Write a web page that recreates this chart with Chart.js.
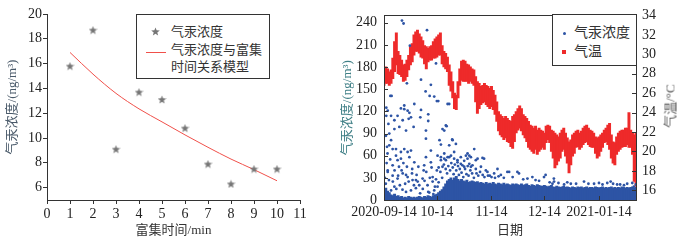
<!DOCTYPE html>
<html>
<head>
<meta charset="utf-8">
<script src="https://cdn.jsdelivr.net/npm/chart.js@4.4.1/dist/chart.umd.min.js"></script>
<style>
html, body { margin: 0; padding: 0; background: #fff; }
#wrap { position: relative; width: 684px; height: 246px; font-family: 'Liberation Serif', 'Noto Sans CJK SC', serif; color: #333; }
canvas { position: absolute; top: 0; }
#c1 { left: 0; }
#c2 { left: 340px; }
.lg { position: absolute; background: #fff; border: 1px solid #333; box-sizing: border-box; }
.lg span { position: absolute; white-space: nowrap; }
#tempTitle { position: absolute; left: 670px; top: 106px; font-size: 13px; line-height: 13px; color: #555; white-space: nowrap; transform: translate(-50%, -50%) rotate(-90deg); }
</style>
</head>
<body>
<div id="wrap">
  <canvas id="c1" width="340" height="246"></canvas>
  <canvas id="c2" width="344" height="246"></canvas>

  <div class="lg" style="left:136px;top:14px;width:134px;height:65px;font-size:13px;line-height:16px;">
    <img id="starIcon" style="position:absolute;left:14px;top:12px;width:9px;height:9px;">
    <span style="left:34px;top:9px;">气汞浓度</span>
    <div style="position:absolute;left:9px;top:37px;width:20px;height:1px;background:#f0504a;"></div>
    <span style="left:34px;top:27px;">气汞浓度与富集</span>
    <span style="left:34px;top:44px;">时间关系模型</span>
  </div>

  <div class="lg" style="left:552px;top:14px;width:85px;height:52px;font-size:14px;line-height:17px;">
    <div style="position:absolute;left:10px;top:17px;width:3px;height:3px;border-radius:50%;background:#2d54a5;"></div>
    <span style="left:21px;top:9px;">气汞浓度</span>
    <div style="position:absolute;left:9px;top:35px;width:4px;height:4px;background:#ee2a2a;"></div>
    <span style="left:21px;top:28px;">气温</span>
  </div>

  <span id="tempTitle">气温/°C</span>
</div>

<script>
// ---- left panel: enrichment time vs Hg concentration
const enrichTime = [1, 2, 3, 4, 5, 6, 7, 8, 9, 10];
const hgMeasured = [15.8, 18.7, 9.1, 13.7, 13.1, 10.8, 7.9, 6.3, 7.5, 7.5];
const hgModel = [16.9, 15.15, 13.6, 12.35, 11.3, 10.25, 9.25, 8.3, 7.45, 6.55];
const leftXTicks = [0, 1, 2, 3, 4, 5, 6, 7, 8, 9, 10, 11];
const leftYTicks = [6, 8, 10, 12, 14, 16, 18, 20];

// ---- right panel: daily values, index = days since 2020-09-14
const tempHigh = [
  28.5, 28.7, 28.5, 28.2, 28.4, 29.6, 31.3, 32.2, 30.3, 29.9,
  29.4, 28.9, 29.0, 29.4, 29.9, 30.8, 31.1, 32.0, 32.3, 32.5,
  32.1, 31.8, 31.4, 30.9, 30.8, 30.6, 30.8, 30.9, 31.3, 31.6,
  31.8, 32.0, 32.2, 30.9, 30.3, 30.1, 29.7, 28.9, 28.2, 27.2,
  26.0, 25.8, 27.2, 28.5, 29.3, 29.4, 29.3, 29.0, 28.9, 28.7,
  28.5, 28.4, 27.7, 27.2, 27.0, 26.7, 26.8, 27.0, 26.8, 26.7,
  26.5, 26.7, 26.3, 25.8, 25.1, 24.1, 23.8, 23.6, 23.4, 23.6,
  23.4, 23.2, 23.1, 23.6, 23.8, 24.1, 24.4, 24.7, 24.4, 23.8,
  23.6, 23.4, 23.1, 22.7, 22.6, 22.4, 22.6, 22.2, 22.4, 22.2,
  22.1, 21.9, 22.6, 22.7, 22.6, 22.2, 22.1, 21.9, 21.7, 21.5,
  21.9, 22.2, 22.4, 21.9, 21.4, 21.0, 21.2, 21.7, 21.9, 22.1,
  22.2, 21.9, 22.1, 22.4, 22.6, 22.7, 22.4, 22.2, 22.1, 21.9,
  21.5, 21.4, 21.5, 21.7, 21.9, 22.2, 22.4, 22.7, 22.9, 21.7,
  21.0, 20.9, 21.5, 21.9, 22.1, 22.2, 22.2, 22.4, 22.4, 24.0,
  22.2, 21.9, 21.7, 21.9
];
const tempLow = [
  26.8, 27.0, 27.0, 26.8, 27.0, 27.5, 28.2, 28.9, 28.0, 27.9,
  27.7, 27.2, 27.3, 27.7, 28.4, 28.9, 29.2, 29.9, 30.3, 30.3,
  30.1, 29.7, 29.6, 29.0, 28.5, 29.2, 29.4, 29.4, 29.6, 29.6,
  29.7, 29.9, 29.9, 29.0, 28.7, 28.5, 28.2, 26.8, 26.2, 25.5,
  24.4, 24.3, 25.5, 26.8, 27.3, 27.2, 27.2, 27.2, 27.0, 27.2,
  27.0, 26.8, 25.1, 23.9, 24.4, 24.8, 25.0, 25.1, 24.8, 24.6,
  24.4, 24.6, 24.3, 23.8, 23.1, 22.1, 21.7, 21.5, 21.2, 21.4,
  21.0, 20.9, 20.5, 20.3, 21.0, 21.9, 22.2, 22.4, 22.1, 21.7,
  21.4, 21.0, 20.4, 20.2, 20.0, 19.8, 20.2, 19.7, 20.0, 20.2,
  20.4, 20.2, 20.9, 21.2, 20.9, 20.0, 19.3, 18.3, 18.6, 19.0,
  19.3, 20.0, 20.2, 19.5, 18.8, 17.8, 18.6, 19.5, 19.8, 20.4,
  20.5, 20.2, 20.4, 20.7, 20.9, 21.0, 20.7, 20.5, 20.4, 20.4,
  19.8, 19.3, 19.5, 20.0, 20.4, 20.9, 21.0, 20.7, 20.2, 19.3,
  18.8, 18.6, 19.7, 20.0, 20.2, 20.4, 20.5, 20.5, 20.7, 20.4,
  20.4, 19.7, 16.9, 16.4
];
// dense lower part of the Hg cloud, per day
const concBandTop = [
  14, 16, 12, 10, 7, 6, 8, 5, 6, 4,
  5, 3, 4, 3, 5, 4, 3, 4, 3, 4,
  5, 4, 3, 5, 4, 6, 5, 4, 6, 7,
  8, 10, 12, 14, 18, 22, 26, 28, 30, 27,
  30, 32, 28, 26, 28, 26, 25, 27, 24, 25,
  26, 25, 24, 25, 23, 24, 23, 22, 24, 22,
  23, 22, 24, 22, 21, 23, 22, 21, 23, 21,
  22, 21, 20, 22, 21, 22, 21, 20, 22, 20,
  21, 22, 20, 19, 21, 20, 19, 21, 20, 19,
  19, 20, 19, 18, 19, 20, 18, 17, 19, 18,
  17, 18, 19, 17, 18, 17, 16, 18, 17, 16,
  18, 17, 18, 16, 17, 18, 16, 17, 17, 16,
  18, 17, 16, 17, 18, 16, 17, 16, 17, 18,
  16, 17, 16, 17, 16, 18, 17, 16, 17, 16,
  17, 18, 16, 17
];
// scattered Hg observations [day, ng/m3]
const concPoints = [
  [10.2, 243], [11.1, 239], [24.4, 230], [14.7, 209], [29.5, 185], [21, 163], [13, 158],
  [26.6, 156], [23.6, 147], [25.9, 141], [4.3, 141], [3.6, 141], [28.5, 140], [30, 134],
  [30.8, 134], [17.2, 130], [36.1, 130], [37, 130], [11.5, 128], [1.3, 125], [9.6, 124],
  [11.5, 123], [21, 122], [2.1, 121], [13.4, 121], [14.4, 118], [25.1, 116], [1.3, 114],
  [4, 114], [7.7, 114], [15.3, 112], [20.6, 112], [14, 110], [10.6, 108], [5.9, 108],
  [25.1, 107], [2.5, 103], [35.1, 101], [35.5, 100], [16.8, 99], [8.7, 99], [5.9, 96],
  [33.2, 96], [34.2, 94], [12.5, 94], [23.8, 94], [3, 90], [1.1, 87], [23.8, 83],
  [38.7, 82], [31.5, 81], [4, 81], [38.9, 81], [40.8, 76], [32.3, 75], [37, 74], [3, 74],
  [1.7, 72], [51.2, 69], [6.8, 69], [11.5, 69], [4.9, 69], [26.6, 67], [15.3, 67],
  [9.6, 65], [39.8, 65], [13.4, 65], [2, 63], [47.4, 63], [34.2, 63], [6.8, 60],
  [30.4, 60], [38, 60], [48.4, 60], [46.5, 60], [14.4, 58], [23.8, 58], [32.3, 58],
  [37, 58], [43.6, 58], [36.1, 58], [49.3, 58], [55.9, 57], [56.8, 56], [9.6, 56],
  [34.2, 56], [39.8, 56], [47.4, 56], [53.1, 56], [7.7, 54], [35.1, 54], [41.7, 54],
  [52.1, 54], [32.3, 54], [45.5, 53], [17.2, 51], [26.6, 51], [41.7, 51], [43.6, 49],
  [48.4, 49], [4.9, 47], [22.8, 47], [50.2, 47], [33.2, 45], [45.5, 45], [49.3, 45],
  [55, 45], [52.1, 42], [64.4, 42], [2.1, 40], [10, 40], [22.5, 40], [57.8, 40],
  [2.1, 38], [58.7, 38], [70, 38], [71, 38], [75.7, 38], [15.9, 36], [10.6, 36],
  [62.5, 36], [76.6, 36], [12.5, 34], [66.3, 34], [91.7, 34], [4.9, 33], [60, 33],
  [13.4, 31], [27.6, 31], [84.2, 31], [90.8, 31], [73, 31], [68, 30], [7.7, 29],
  [21.9, 29], [81.4, 29], [96.4, 29], [79, 28], [18.1, 27], [16.2, 27], [86, 27],
  [88, 26], [27.6, 25], [19.1, 25], [96.5, 25], [113.5, 25], [128.6, 25], [94, 24],
  [104, 24], [99, 23], [126.7, 23], [122, 23], [140.9, 23], [106, 22], [119.2, 22],
  [95.6, 22], [109, 22], [116, 22], [130, 22], [138, 22], [102.2, 21], [132.3, 21],
  [124, 21], [134, 21], [143, 21], [20, 20], [24.7, 20], [136.2, 20], [28.9, 18],
  [30.4, 18], [141.8, 18], [5.9, 18], [18.1, 16], [4, 13], [15.3, 13], [28.5, 13],
  [25.1, 11], [12.5, 11], [25.7, 10],
  [31, 44], [32, 38], [33, 30], [34, 48], [35, 42], [35.8, 36], [36.5, 46], [37.5, 40],
  [38.2, 50], [39, 44], [39.5, 35], [40.2, 48], [41, 40], [42, 46], [42.5, 34], [43, 42],
  [44, 37], [44.5, 47], [45, 31], [46, 42], [46.8, 35], [47.5, 46], [48, 33], [49, 40],
  [50, 36], [51, 30], [52.5, 36], [53.5, 33], [54.5, 38], [56, 34], [57, 31], [59, 33],
  [61, 31], [63, 30], [65, 32],
  [0.5, 30], [1, 22], [1.5, 50], [2.8, 27], [3.5, 55], [5, 25], [6, 40], [7, 15],
  [8, 33], [8.5, 45], [9, 20], [10.5, 14], [11, 50], [12, 22], [13, 45], [14, 25],
  [16, 42], [17, 20], [18.5, 34], [19.5, 45], [20.5, 9], [22, 15], [23, 26], [24, 38],
  [26, 30], [27, 44], [28, 8], [29.5, 28], [30, 40], [31, 24]
];
const dateTicks = [0, 30, 61, 91, 122];
const dateLabels = ['2020-09-14', '10-14', '11-14', '12-14', '2021-01-14'];
const concTicks = [0, 30, 60, 90, 120, 150, 180, 210, 240];
const tempTicks = [16, 18, 20, 22, 24, 26, 28, 30, 32, 34];

const serif = "'Liberation Serif', 'Noto Sans CJK SC', serif";
const tickFont = { family: serif, size: 14 };
const titleFont = { family: serif, size: 13 };
const axisCol = '#333';

// filled five point star for the measured points
const star = document.createElement('canvas');
star.width = 9; star.height = 9;
const sc = star.getContext('2d');
sc.fillStyle = '#767676';
sc.beginPath();
for (let i = 0; i < 10; i++) {
  const r = i % 2 ? 1.9 : 4.5;
  const a = -Math.PI / 2 + i * Math.PI / 5;
  const px = 4.5 + r * Math.cos(a), py = 4.9 + r * Math.sin(a);
  if (i) sc.lineTo(px, py); else sc.moveTo(px, py);
}
sc.closePath();
sc.fill();
document.getElementById('starIcon').src = star.toDataURL();

const setTicks = vals => scale => { scale.ticks = vals.map(v => ({ value: v })); };

new Chart(document.getElementById('c1'), {
  type: 'scatter',
  data: {
    datasets: [
      {
        label: '气汞浓度',
        data: enrichTime.map((t, i) => ({ x: t, y: hgMeasured[i] })),
        pointStyle: star,
        pointRadius: 4.5,
        order: 0
      },
      {
        type: 'line',
        label: '气汞浓度与富集时间关系模型',
        data: enrichTime.map((t, i) => ({ x: t, y: hgModel[i] })),
        borderColor: '#f0504a',
        borderWidth: 1,
        pointRadius: 0,
        cubicInterpolationMode: 'monotone',
        fill: false,
        order: 1
      }
    ]
  },
  options: {
    responsive: false,
    animation: false,
    layout: { padding: { top: 14, right: 40 } },
    plugins: { legend: { display: false }, tooltip: { enabled: false } },
    scales: {
      x: {
        type: 'linear', min: 0, max: 11,
        afterBuildTicks: setTicks(leftXTicks),
        afterFit: s => { s.height = 46; },
        grid: { drawOnChartArea: false, tickLength: 4, color: axisCol },
        border: { color: axisCol },
        ticks: { font: tickFont, color: '#222', padding: 2, maxRotation: 0, autoSkip: false },
        title: { display: true, text: '富集时间/min', font: titleFont, color: '#333', padding: { top: 0, bottom: 8 } }
      },
      y: {
        type: 'linear', min: 5, max: 20,
        afterBuildTicks: setTicks(leftYTicks),
        afterFit: s => { s.width = 47; },
        grid: { drawOnChartArea: false, tickLength: 4, color: axisCol },
        border: { color: axisCol },
        ticks: { font: tickFont, color: '#222', padding: 1 },
        title: { display: true, text: '气汞浓度/(ng/m³)', font: titleFont, color: '#4a5a6a', padding: { top: 5, bottom: 0 } }
      }
    }
  }
});

// box round the plot area and inward tick marks
const frame = {
  id: 'frame',
  afterDatasetsDraw(chart) {
    const { ctx, chartArea: a, scales } = chart;
    ctx.save();
    ctx.strokeStyle = axisCol;
    ctx.lineWidth = 1;
    ctx.strokeRect(Math.round(a.left) + 0.5, Math.round(a.top) + 0.5, Math.round(a.right - a.left), Math.round(a.bottom - a.top));
    ctx.beginPath();
    scales.x.ticks.forEach(t => {
      const px = Math.round(scales.x.getPixelForValue(t.value)) + 0.5;
      ctx.moveTo(px, a.bottom); ctx.lineTo(px, a.bottom - 4);
    });
    scales.y.ticks.forEach(t => {
      const py = Math.round(scales.y.getPixelForValue(t.value)) + 0.5;
      ctx.moveTo(a.left, py); ctx.lineTo(a.left + 4, py);
    });
    scales.y2.ticks.forEach(t => {
      const py = Math.round(scales.y2.getPixelForValue(t.value)) + 0.5;
      ctx.moveTo(a.right, py); ctx.lineTo(a.right - 4, py);
    });
    ctx.stroke();
    ctx.restore();
  }
};

new Chart(document.getElementById('c2'), {
  type: 'bar',
  data: {
    datasets: [
      {
        type: 'scatter',
        label: '气汞浓度',
        data: concPoints.map(p => ({ x: p[0], y: p[1] })),
        yAxisID: 'y',
        backgroundColor: '#2d54a5',
        borderWidth: 0,
        pointRadius: 1.4,
        order: 0
      },
      {
        label: '气汞浓度',
        data: concBandTop.map((c, i) => ({ x: i, y: [0, c] })),
        yAxisID: 'y',
        backgroundColor: '#2d54a5',
        barThickness: 2.3,
        grouped: false,
        order: 1
      },
      {
        label: '气温',
        data: tempHigh.map((h, i) => ({ x: i, y: [tempLow[i], h] })),
        yAxisID: 'y2',
        backgroundColor: '#ee2a2a',
        barThickness: 2.3,
        grouped: false,
        order: 2
      }
    ]
  },
  options: {
    responsive: false,
    animation: false,
    layout: { padding: { top: 14 } },
    plugins: { legend: { display: false }, tooltip: { enabled: false } },
    scales: {
      x: {
        type: 'linear', min: 0, max: 143, offset: false,
        afterBuildTicks: setTicks(dateTicks),
        afterFit: s => { s.height = 46; },
        grid: { display: false, drawTicks: false, offset: false },
        border: { display: false },
        ticks: { font: tickFont, color: '#222', padding: 4, maxRotation: 0, autoSkip: false, callback: (v, i) => dateLabels[i] },
        title: { display: true, text: '日期', font: titleFont, color: '#333', padding: { top: 0, bottom: 8 } }
      },
      y: {
        position: 'left', min: 0, max: 250,
        afterBuildTicks: setTicks(concTicks),
        afterFit: s => { s.width = 44; },
        grid: { display: false, drawTicks: false },
        border: { display: false },
        ticks: { font: tickFont, color: '#222', padding: 7 },
        title: { display: true, text: '气汞浓度/(ng/m³)', font: titleFont, color: '#3f7f86', padding: { top: 0, bottom: 0 } }
      },
      y2: {
        position: 'right', min: 15, max: 34, beginAtZero: false,
        afterBuildTicks: setTicks(tempTicks),
        afterFit: s => { s.width = 48; },
        grid: { display: false, drawTicks: false },
        border: { display: false },
        ticks: { font: tickFont, color: '#222', padding: 6 }
      }
    }
  },
  plugins: [frame]
});
</script>
</body>
</html>
